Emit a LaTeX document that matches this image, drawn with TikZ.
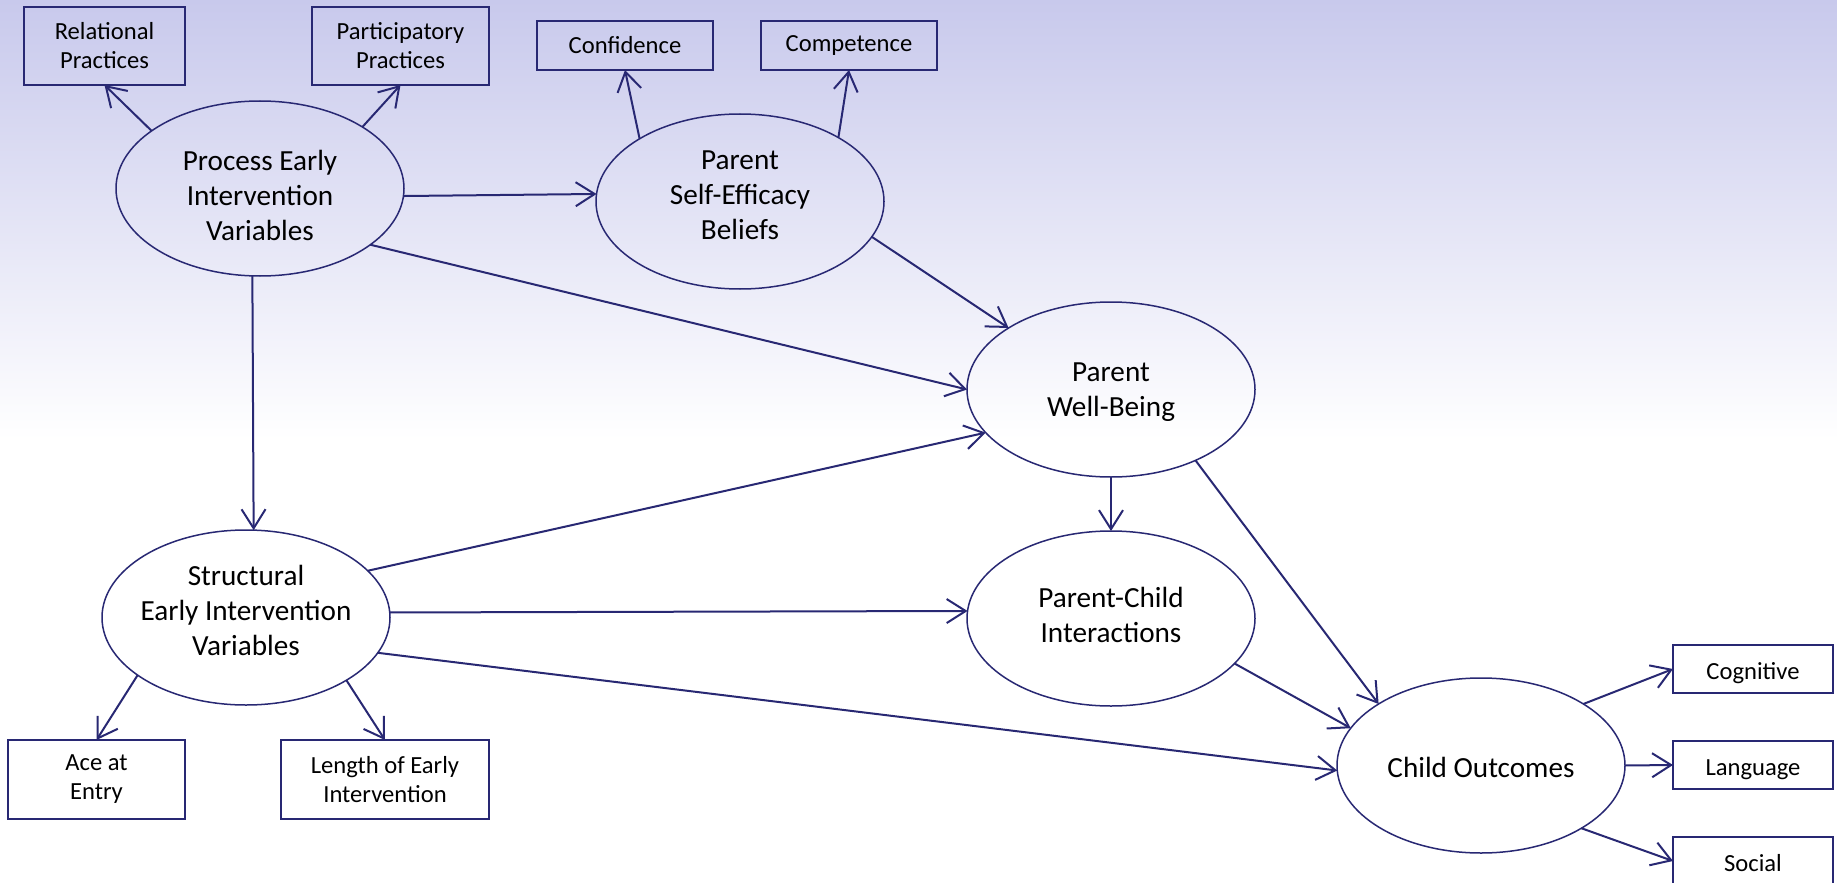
\documentclass[tikz,border=0pt]{standalone}
\usepackage{fontspec}
\setmainfont{Carlito}
\usetikzlibrary{arrows.meta,shapes.geometric}
\definecolor{navy}{RGB}{40,40,115}
\definecolor{lavtop}{RGB}{200,201,236}
\definecolor{lavmid}{RGB}{216,217,242}
\begin{document}
\begin{tikzpicture}[x=0.5pt,y=-0.5pt,
 ell/.style={ellipse, draw=navy, line width=0.75pt, minimum width=144pt, minimum height=87.5pt, inner sep=0pt, outer sep=0pt},
 etxt/.style={align=center, font=\fontsize{14.6}{17.5}\selectfont, inner sep=0pt, text=black},
 box/.style={rectangle, draw=navy, line width=1pt, inner sep=0pt, outer sep=0pt, align=center, font=\fontsize{12.3}{14.5}\selectfont},
 lowtext/.style={text height=11pt, text depth=1pt},
 arr/.style={draw=navy, line width=1pt, -{Straight Barb[length=9.5pt,width=12pt]}},
]
\useasboundingbox (0,0) rectangle (1837,883);
\clip (0,0) rectangle (1837,883);
\fill[white] (0,0) rectangle (1837,883);
\shade[top color=lavtop, middle color=lavmid, bottom color=white] (0,0) rectangle (1837,440);

% ellipses
\node[ell, label={[etxt,yshift=-3.4pt]center:Process Early\\Intervention\\Variables}] (proc) at (260,188.5) {};
\node[ell, label={[etxt,yshift=3.1pt]center:Parent\\Self-Efficacy\\Beliefs}] (se) at (740,201.5) {};
\node[ell, label={[etxt,yshift=-1.3pt]center:Parent\\Well-Being}] (wb) at (1111,389.5) {};
\node[ell, label={[etxt,yshift=1.85pt]center:Parent-Child\\Interactions}] (pc) at (1111,618.5) {};
\node[ell, label={[etxt,yshift=3.6pt]center:Structural\\Early Intervention\\Variables}] (st) at (246,617.5) {};
\node[ell, label={[etxt,yshift=-0.9pt]center:Child Outcomes}] (ch) at (1481,765.5) {};

% boxes
\node[box, minimum width=80.5pt, minimum height=39pt] (rel) at (104.5,46) {Relational\\Practices};
\node[box, minimum width=88.5pt, minimum height=39pt] (part) at (400.5,46) {Participatory\\Practices};
\node[box, minimum width=88pt, minimum height=24.5pt] (conf) at (625,45.5) {Confidence};
\node[box, minimum width=88pt, minimum height=24.5pt] (comp) at (849,45.5) {Competence};
\node[box, minimum width=88.5pt, minimum height=39.5pt] (ace) at (96.5,779.5) {Ace at\\Entry};
\node[box, minimum width=104pt, minimum height=39.5pt] (len) at (385,779.5) {Length of Early\\Intervention};
\node[box, lowtext, minimum width=80pt, minimum height=24pt] (cog) at (1753,669) {Cognitive};
\node[box, lowtext, minimum width=80pt, minimum height=24pt] (lang) at (1753,765) {Language};
\node[box, lowtext, minimum width=80pt, minimum height=24pt] (soc) at (1753,861) {Social};

% connectors
\draw[arr] (proc.152.6) -- (rel.south);
\draw[arr] (proc.31.2) -- (part.south);
\draw[arr] (proc.357.4) -- (se.177.4);
\draw[arr] (proc.333) -- (wb.west);
\draw[arr] (proc.265.4) -- (st.85.4);
\draw[arr] (se.148.1) -- (conf.south);
\draw[arr] (se.33.1) -- (comp.south);
\draw[arr] (se.345.4) -- (wb.149.6);
\draw[arr] (st.208.8) -- (ace.north);
\draw[arr] (st.328.7) -- (len.north);
\draw[arr] (st.21.9) -- (wb.199.8);
\draw[arr] (st.2.6) -- (pc.177.4);
\draw[arr] (st.345.5) -- (ch.182.6);
\draw[arr] (wb.south) -- (pc.north);
\draw[arr] (wb.320.4) -- (ch.149);
\draw[arr] (pc.340.3) -- (ch.164.9);
\draw[arr] (ch.31.5) -- (cog.west);
\draw[arr] (ch.east) -- (lang.west);
\draw[arr] (ch.328.9) -- (soc.west);
\end{tikzpicture}
\end{document}
